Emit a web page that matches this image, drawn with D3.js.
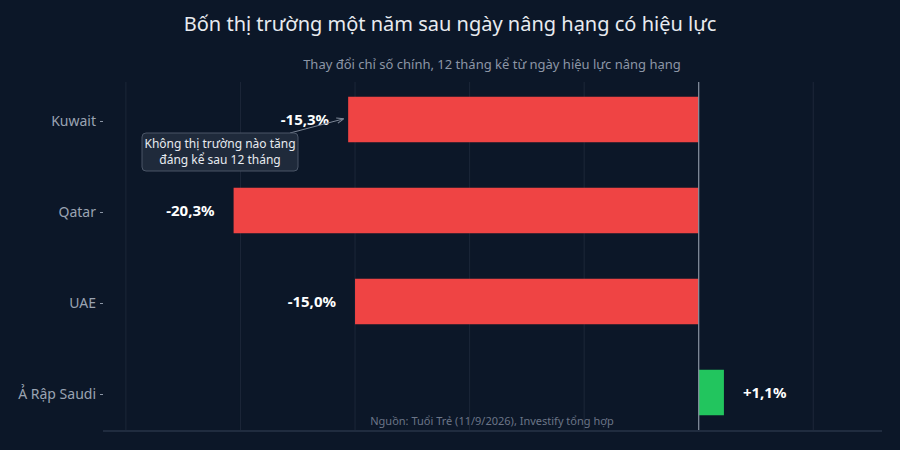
<!DOCTYPE html>
<html>
<head>
<meta charset="utf-8">
<script src="https://cdn.jsdelivr.net/npm/d3@7"></script>
<style>
  html, body { margin: 0; padding: 0; background: #0c1728; }
  svg { display: block; font-family: "Noto Sans", "Open Sans", sans-serif; }
</style>
</head>
<body>
<svg id="chart" width="900" height="450"></svg>
<script>
const markets = ["Kuwait", "Qatar", "UAE", "Ả Rập Saudi"];
const changes = [-15.3, -20.3, -15.0, 1.1];
const valueLabels = ["-15,3%", "-20,3%", "-15,0%", "+1,1%"];
const gridTicks = [-25, -20, -15, -10, -5, 0, 5];

const svg = d3.select("#chart");

const x = d3.scaleLinear().domain([-26, 8]).range([103, 882]);
const y = d3.scaleBand().domain(markets).range([82, 430])
  .paddingInner(0.5).paddingOuter(0.162);

svg.append("rect").attr("width", 900).attr("height", 450).attr("fill", "#0c1728");

// title + subtitle
svg.append("text")
  .text("Bốn thị trường một năm sau ngày nâng hạng có hiệu lực")
  .attr("x", 450).attr("y", 31)
  .attr("text-anchor", "middle")
  .attr("fill", "#e8ebf0")
  .attr("font-size", 20);

svg.append("text")
  .text("Thay đổi chỉ số chính, 12 tháng kể từ ngày hiệu lực nâng hạng")
  .attr("x", 492).attr("y", 69)
  .attr("text-anchor", "middle")
  .attr("fill", "#8c96a6")
  .attr("font-size", 13);

// grid
svg.append("g").selectAll("line")
  .data(gridTicks.filter(d => d !== 0))
  .join("line")
  .attr("x1", d => x(d)).attr("x2", d => x(d))
  .attr("y1", 82).attr("y2", 430)
  .attr("stroke", "#1c2738")
  .attr("stroke-width", 1);

// bars
svg.append("g").selectAll("rect")
  .data(markets)
  .join("rect")
  .attr("x", (d, i) => x(Math.min(0, changes[i])))
  .attr("width", (d, i) => Math.abs(x(changes[i]) - x(0)))
  .attr("y", d => y(d))
  .attr("height", y.bandwidth())
  .attr("fill", (d, i) => changes[i] < 0 ? "#ef4444" : "#22c55e");

// zero line
svg.append("line")
  .attr("x1", x(0)).attr("x2", x(0))
  .attr("y1", 82).attr("y2", 430)
  .attr("stroke", "#8a94a3")
  .attr("stroke-width", 1.2);

// x axis baseline
svg.append("line")
  .attr("x1", 103).attr("x2", 882)
  .attr("y1", 431).attr("y2", 431)
  .attr("stroke", "#273447")
  .attr("stroke-width", 1.5);

// y axis
const yAxis = svg.append("g")
  .attr("transform", "translate(103,2)")
  .call(d3.axisLeft(y).tickSize(3).tickPadding(4));
yAxis.select(".domain").remove();
yAxis.selectAll(".tick line").attr("stroke", "#8c96a6");
yAxis.selectAll(".tick text")
  .attr("fill", "#9aa3b2")
  .attr("font-size", 14)
  .attr("font-family", "\"Noto Sans\", \"Open Sans\", sans-serif");

// value labels
svg.append("g").selectAll("text")
  .data(markets)
  .join("text")
  .text((d, i) => valueLabels[i])
  .attr("x", (d, i) => changes[i] < 0 ? x(changes[i]) - 19 : x(changes[i]) + 19)
  .attr("y", d => y(d) + y.bandwidth() / 2)
  .attr("dy", "0.35em")
  .attr("text-anchor", (d, i) => changes[i] < 0 ? "end" : "start")
  .attr("fill", "#ffffff")
  .attr("font-weight", "bold")
  .attr("font-size", 15);

// source
svg.append("text")
  .text("Nguồn: Tuổi Trẻ (11/9/2026), Investify tổng hợp")
  .attr("x", 492).attr("y", 425)
  .attr("text-anchor", "middle")
  .attr("fill", "#6b7587")
  .attr("font-size", 11);

// annotation
const defs = svg.append("defs");
defs.append("marker")
  .attr("id", "arr")
  .attr("viewBox", "0 0 10 10")
  .attr("refX", 9).attr("refY", 5)
  .attr("markerWidth", 7).attr("markerHeight", 7)
  .attr("orient", "auto")
  .append("path")
  .attr("d", "M0,1 L10,5 L0,9")
  .attr("fill", "none")
  .attr("stroke", "#7c8696")
  .attr("stroke-width", 1.5);

svg.append("line")
  .attr("x1", 290).attr("y1", 133)
  .attr("x2", 343).attr("y2", 119)
  .attr("stroke", "#7c8696")
  .attr("stroke-width", 1)
  .attr("marker-end", "url(#arr)");

svg.append("rect")
  .attr("x", 142).attr("y", 133)
  .attr("width", 156).attr("height", 38)
  .attr("rx", 4)
  .attr("fill", "#1f2a3b")
  .attr("stroke", "#4a5567")
  .attr("stroke-width", 1);

const note = svg.append("text")
  .attr("x", 220).attr("y", 148)
  .attr("text-anchor", "middle")
  .attr("fill", "#e8ebf0")
  .attr("font-size", 12);
note.append("tspan").attr("x", 220).text("Không thị trường nào tăng");
note.append("tspan").attr("x", 220).attr("dy", 16).text("đáng kể sau 12 tháng");
</script>
</body>
</html>
